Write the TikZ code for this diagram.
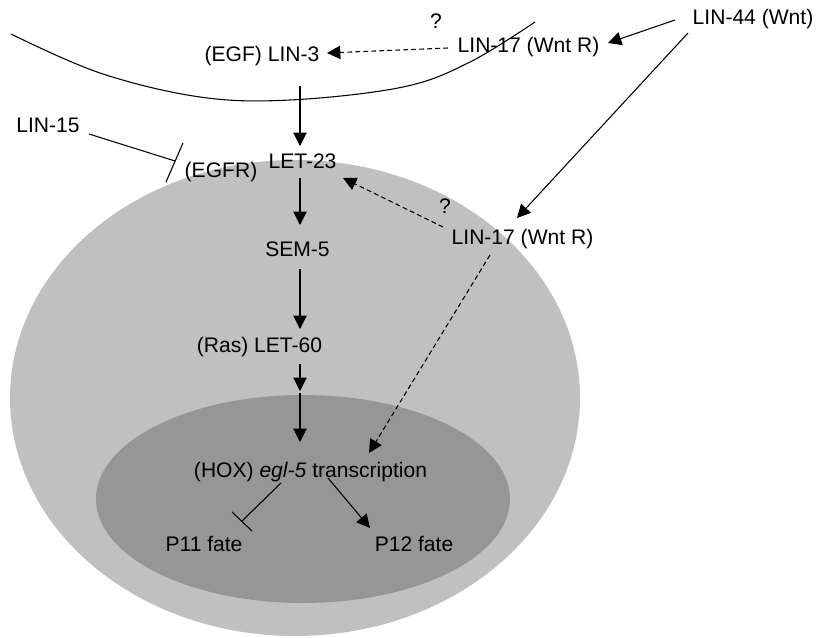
\documentclass[tikz,border=0pt]{standalone}
\usepackage{fontspec}
\setmainfont{Liberation Sans}
\usetikzlibrary{arrows.meta,calc}
\definecolor{cellgray}{RGB}{192,192,192}
\definecolor{nucgray}{RGB}{150,150,150}
\begin{document}
\begin{tikzpicture}[x=0.75pt,y=-0.75pt,
  lbl/.style={anchor=base,inner sep=0pt,font=\fontsize{15.8}{18}\selectfont},
  conn/.style={line width=0.8pt},
  arr/.style={conn,-{Triangle[length=10pt,width=10pt]}},
  darr/.style={arr,dash pattern=on 3.6pt off 2.4pt},
  barline/.style={line width=0.8pt}]
\useasboundingbox (0,0) rectangle (817,638);
% cell and nucleus
\fill[cellgray] (295,398) ellipse [x radius=285, y radius=238];
\fill[nucgray] (303,499) ellipse [x radius=207, y radius=104];
% membrane of neighbouring cell
\draw[line width=0.8pt] plot[smooth,tension=0.6] coordinates {(11,34) (100,73) (200,97) (290,100) (403,87) (470,62) (535,22)};
% labels
\node[lbl] (lin44) at (753,25) {LIN-44 (Wnt)};
\node[lbl] (lin17a) at (528.5,53) {LIN-17 (Wnt R)};
\node[lbl] (qa) at (436,29) {?};
\node[lbl] (lin3) at (262,62) {(EGF) LIN-3};
\node[lbl] (lin15) at (48,133) {LIN-15};
\node[lbl] (egfr) at (221,177) {(EGFR)};
\node[lbl] (let23) at (302.5,169) {LET-23};
\node[lbl] (sem5) at (297.5,256) {SEM-5};
\node[lbl] (let60) at (259.5,352) {(Ras) LET-60};
\node[lbl] (lin17b) at (522.5,244) {LIN-17 (Wnt R)};
\node[lbl] (qb) at (445,213) {?};
\node[lbl] (hox) at (310.5,477) {(HOX) \textit{egl-5} transcription};
\node[lbl] (p11) at (204,551) {P11 fate};
\node[lbl] (p12) at (414,551) {P12 fate};
% connectors
\draw[arr] ($(lin44.base)+(-78,-5)$) -- ($(lin17a.base)+(79.5,-10)$);
\draw[darr] ($(lin17a.base)+(-80.5,-5)$) -- ($(lin3.base)+(65,-9)$);
\draw[arr] ($(lin44.base)+(-65,8)$) -- ($(lin17b.base)+(-5.5,-26)$);
\draw[arr] ($(lin3.base)+(38,24)$) -- ($(let23.base)+(-2.5,-23)$);
\draw[conn] ($(lin15.base)+(41,1)$) -- ($(egfr.base)+(-46,-16)$);
\draw[barline] ($(egfr.base)+(-38,-34)$) -- ($(egfr.base)+(-55,5)$);
\draw[arr] ($(let23.base)+(-2.5,9)$) -- ($(sem5.base)+(2.5,-31)$);
\draw[arr] ($(sem5.base)+(2.5,13)$) -- ($(let60.base)+(40.5,-23)$);
\draw[arr] ($(let60.base)+(40.5,12)$) -- ($(let60.base)+(40.5,39)$);
\draw[arr] ($(hox.base)+(-10.5,-84)$) -- ($(hox.base)+(-10.5,-35)$);
\draw[darr] ($(lin17b.base)+(-79.5,-17)$) -- ($(let23.base)+(40.5,9)$);
\draw[darr] ($(lin17b.base)+(-32.5,11)$) -- ($(hox.base)+(58.5,-24)$);
\draw[conn] ($(hox.base)+(-29.5,6)$) -- ($(p11.base)+(38,-30)$);
\draw[barline] ($(p11.base)+(28,-39)$) -- ($(p11.base)+(48,-20)$);
\draw[arr] ($(hox.base)+(17.5,1)$) -- ($(p12.base)+(-44,-23)$);
\end{tikzpicture}
\end{document}
